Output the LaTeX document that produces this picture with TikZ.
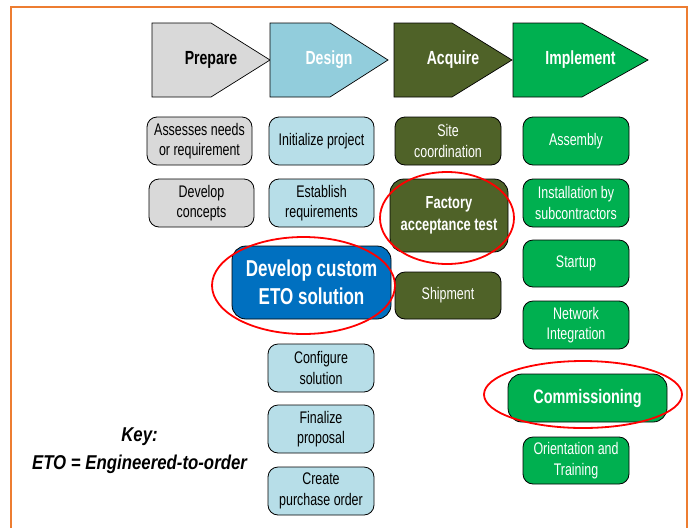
\documentclass[tikz,border=0pt]{standalone}
\usepackage{fontspec}
\setmainfont{Liberation Sans}[FakeStretch=0.74]
\newfontfamily\keyfont{Liberation Sans}[FakeStretch=0.84]
\usepackage{tikz}

\definecolor{prepgray}{HTML}{D9D9D9}
\definecolor{desblue}{HTML}{92CDDC}
\definecolor{desbox}{HTML}{B7DEE8}
\definecolor{acqolive}{HTML}{4F6228}
\definecolor{impgreen}{HTML}{00B050}
\definecolor{etoblue}{HTML}{0070C0}
\definecolor{ringred}{HTML}{FF0000}
\definecolor{frameorange}{HTML}{ED7D31}

\tikzset{
  task/.style={draw=black, line width=0.8pt, rounded corners=10pt,
    minimum width=106pt, minimum height=48pt, inner sep=1pt,
    align=center, font=\fontsize{16.8}{20.5}\selectfont},
  bigtask/.style={task, rounded corners=14pt, font=\bfseries\fontsize{17.4}{22}\selectfont},
  phaselbl/.style={font=\bfseries\fontsize{19}{20}\selectfont},
  ring/.style={draw=ringred, line width=1.8pt}
}

% one chevron of the phase bar: name, left, shoulder, tip, fill, text colour, label
\newcommand{\phasearrow}[7]{%
  \filldraw[fill=#5, draw=black, line width=0.7pt]
    (#2,23) -- (#3,23) -- (#4,60) -- (#3,97) -- (#2,97) -- cycle;
  \node[phaselbl, text=#6] (#1) at ({(#2+#4)/2},60) {#7};
}

\begin{document}
\begin{tikzpicture}[x=1pt, y=-1pt]
  \useasboundingbox (0,0) rectangle (691,528);
  \draw[frameorange, line width=2pt] (11,528) -- (11,7) -- (687,7) -- (687,528);

  % phase bar
  \phasearrow{prepare}{152}{211}{270}{prepgray}{black}{Prepare}
  \phasearrow{design}{270}{330}{388}{desblue}{white}{Design}
  \phasearrow{acquire}{394}{452}{512}{acqolive}{white}{Acquire}
  \phasearrow{implement}{513}{582}{648}{impgreen}{white}{Implement}

  % prepare
  \node[task, fill=prepgray, minimum width=105pt] (assess) at (199.5,141) {Assesses needs\\or requirement};
  \node[task, fill=prepgray, minimum width=105pt] (concepts) at (201.5,203) {Develop\\concepts};

  % design
  \node[task, fill=desbox, minimum width=105pt] (init) at (321.5,141) {Initialize project};
  \node[task, fill=desbox, minimum width=105pt] (reqs) at (321.5,203) {Establish\\requirements};
  \node[bigtask, fill=etoblue, text=white, minimum width=159pt, minimum height=73pt,
    font=\bfseries\fontsize{23}{28}\selectfont] (eto) at (311.5,282.5) {Develop custom\\ETO solution};
  \node[task, fill=desbox] (config) at (321,368) {Configure\\solution};
  \node[task, fill=desbox] (proposal) at (321,429) {Finalize\\proposal};
  \node[task, fill=desbox] (po) at (321,491) {Create\\purchase order};

  % acquire
  \node[task, fill=acqolive, text=white] (site) at (448,141) {Site\\coordination};
  \node[bigtask, fill=acqolive, text=white, minimum width=118pt, minimum height=73pt] (fat) at (449,215.5) {Factory\\acceptance test};
  \node[task, fill=acqolive, text=white, minimum height=47pt] (ship) at (448,295.5) {Shipment};

  % implement
  \node[task, fill=impgreen, text=white] (assembly) at (576,141) {Assembly};
  \node[task, fill=impgreen, text=white] (install) at (576,203) {Installation by\\subcontractors};
  \node[task, fill=impgreen, text=white, minimum height=47pt] (startup) at (576,263.5) {Startup};
  \node[task, fill=impgreen, text=white] (network) at (576,325) {Network\\Integration};
  \node[bigtask, fill=impgreen, text=white, minimum width=159pt,
    font=\bfseries\fontsize{19.5}{22}\selectfont] (commission) at (587.5,398) {Commissioning};
  \node[task, fill=impgreen, text=white, minimum height=47pt] (training) at (576,460.5) {Orientation and\\Training};

  % highlights
  \draw[ring] (303.5,285.5) ellipse (91.5pt and 48.5pt);
  \draw[ring] (447,218) ellipse (67pt and 46pt);
  \draw[ring] (583,394.5) ellipse (99pt and 33.5pt);

  \node[align=center, font=\keyfont\bfseries\itshape\fontsize{20}{28}\selectfont] (key) at (139.5,451) {Key:\\ETO = Engineered-to-order};
\end{tikzpicture}
\end{document}
